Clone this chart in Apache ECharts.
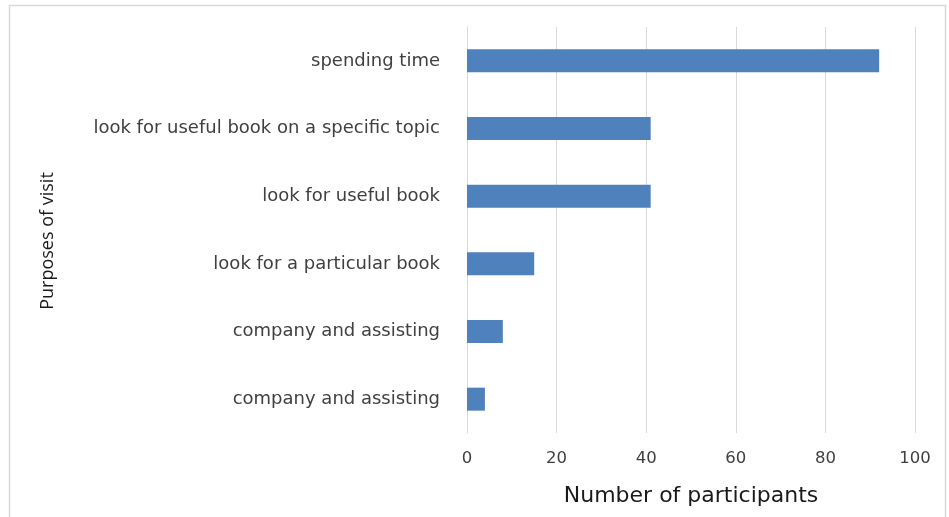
<!DOCTYPE html>
<html>
<head>
<meta charset="utf-8">
<style>
  html, body { margin: 0; padding: 0; background: #fff; }
  #chart { width: 949px; height: 517px; }
</style>
<script src="https://cdn.jsdelivr.net/npm/echarts@6/dist/echarts.min.js"></script>
</head>
<body>
<div id="chart"></div>
<script>
// Purposes of visit, listed top to bottom
const categories = [
  'spending time',
  'look for useful book on a specific topic',
  'look for useful book',
  'look for a particular book',
  'company and assisting',
  'company and assisting'
];
// Number of participants for each purpose
const participants = [92, 41, 41, 15, 8, 4];
const xTicks = [0, 20, 40, 60, 80, 100];

const LABEL_FONT = '"DejaVu Sans", sans-serif';
const NAME_FONT = '"Open Sans", sans-serif';
const TEXT = '#404040';

const chart = echarts.init(document.getElementById('chart'), null, { renderer: 'canvas' });
chart.setOption({
  animation: false,
  backgroundColor: '#ffffff',
  graphic: [{
    type: 'rect',
    shape: { x: 9.5, y: 5.5, width: 936, height: 520 },
    style: { fill: 'none', stroke: '#d9d9d9', lineWidth: 1.5 },
    silent: true
  }],
  grid: { left: 467, right: 34, top: 27, bottom: 84, containLabel: false },
  xAxis: {
    type: 'value',
    min: xTicks[0],
    max: xTicks[xTicks.length - 1],
    interval: xTicks[1] - xTicks[0],
    name: 'Number of participants',
    nameLocation: 'middle',
    nameGap: 52,
    nameTextStyle: { fontFamily: LABEL_FONT, fontSize: 22, color: '#1a1a1a' },
    axisLine: { show: false },
    axisTick: { show: false },
    axisLabel: { fontFamily: LABEL_FONT, fontSize: 16.5, color: TEXT, margin: 17 },
    splitLine: { show: true, lineStyle: { color: '#d9d9d9', width: 1 } }
  },
  yAxis: {
    type: 'category',
    data: categories,
    inverse: true,
    name: 'Purposes of visit',
    nameLocation: 'middle',
    nameGap: 410,
    nameTextStyle: { fontFamily: NAME_FONT, fontSize: 18, color: '#1a1a1a', padding: [0, 22, 0, 0] },
    axisLine: { show: true, lineStyle: { color: '#d9d9d9', width: 1 } },
    axisTick: { show: false },
    axisLabel: { fontFamily: LABEL_FONT, fontSize: 18, color: TEXT, margin: 27 },
    splitLine: { show: false }
  },
  series: [{
    type: 'bar',
    data: participants,
    barWidth: '34%',
    itemStyle: { color: '#4f81bd' }
  }]
});
</script>
</body>
</html>
